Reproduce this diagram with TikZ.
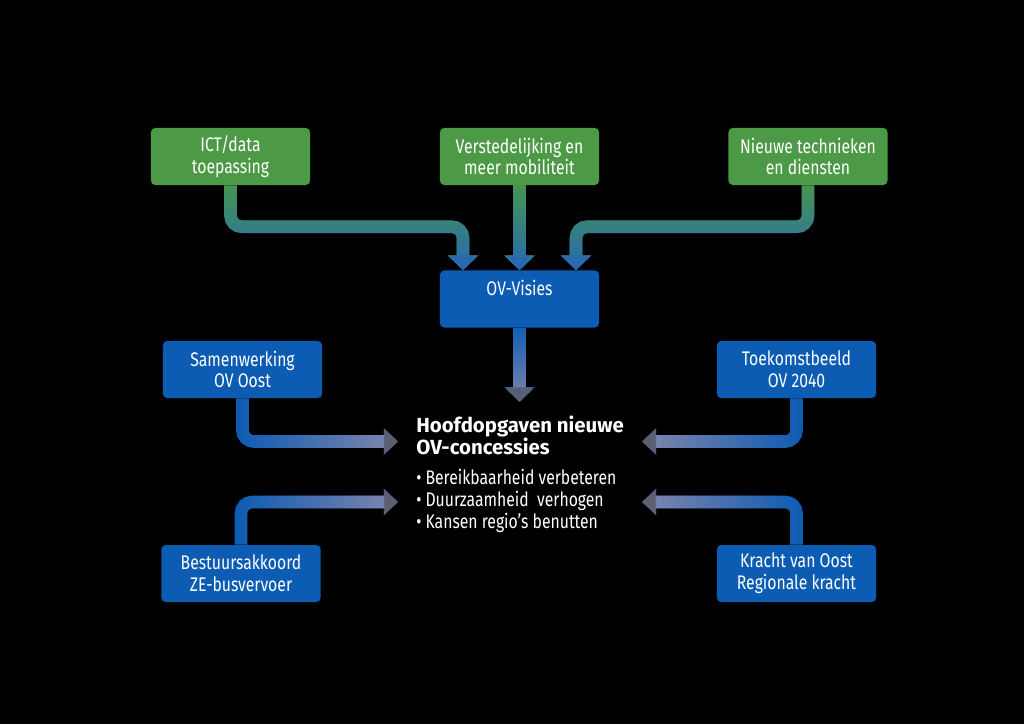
\documentclass[tikz,border=0pt]{standalone}
\usepackage{fontspec}
\setmainfont{Fira Sans}
\newfontfamily\narrowfont{Fira Sans}[FakeStretch=0.8]
\usetikzlibrary{arrows.meta, fadings, calc}
\definecolor{boxgreen}{RGB}{76,154,70}
\definecolor{boxblue}{RGB}{12,92,180}
\definecolor{linkgreen}{RGB}{72,152,76}
\definecolor{linkblue}{RGB}{36,102,186}
\definecolor{linkgrey}{RGB}{136,136,172}
\definecolor{tipgrey}{RGB}{96,96,112}
\tikzfading[name=fadetoeast, left color=transparent!100, middle color=transparent!85, right color=transparent!0]
\tikzfading[name=fadetowest, left color=transparent!0, middle color=transparent!85, right color=transparent!100]

\begin{document}
\begin{tikzpicture}[x=0.025cm, y=-0.025cm,
        box/.style={rectangle, rounded corners=3pt, minimum width=3.975cm, minimum height=1.425cm,
            inner sep=0pt, text=white, align=center, font=\narrowfont\fontsize{14pt}{15.5pt}\selectfont},
        greenbox/.style={box, fill=boxgreen},
        bluebox/.style={box, fill=boxblue},
        link/.style={line width=9pt, rounded corners=8pt, arrows={-{Triangle[width=21pt, length=10.5pt]}}},
        sidelink/.style={link, arrows={-{Triangle[width=18pt, length=10pt]}}},
        downlink/.style={link, draw=linkgreen, postaction={draw=linkblue, path fading=north}},
        greylink/.style={link, draw=boxblue,
            postaction={draw=linkgrey, path fading=north, arrows={-{Triangle[width=21pt, length=10.5pt, color=tipgrey]}}}},
        eastlink/.style={sidelink, draw=boxblue,
            postaction={draw=linkgrey, path fading=fadetoeast, arrows={-{Triangle[width=18pt, length=10pt, color=tipgrey]}}}},
        westlink/.style={sidelink, draw=boxblue,
            postaction={draw=linkgrey, path fading=fadetowest, arrows={-{Triangle[width=18pt, length=10pt, color=tipgrey]}}}}]
        \fill [black] (0, 0) rectangle (1024, 724);
        \useasboundingbox (0, 0) rectangle (1024, 724);
        \node [greenbox] (ict) at (230.5, 156.5) {ICT/data\\toepassing};
        \node [greenbox] (urban) at (519.5, 156.5) {Verstedelijking en\\meer mobiliteit};
        \node [greenbox] (tech) at (808, 156.5) {Nieuwe technieken\\en diensten};
        \node [bluebox] (visies) at (519.5, 299) {OV-Visies\\\mbox{}};
        \node [bluebox] (samen) at (242.5, 369.5) {Samenwerking\\OV Oost};
        \node [bluebox] (future) at (796.5, 369.5) {Toekomstbeeld\\OV 2040};
        \node [bluebox] (accord) at (241, 573.5) {Bestuursakkoord\\ZE-busvervoer};
        \node [bluebox] (kracht) at (796.5, 573.5) {Kracht van Oost\\Regionale kracht};
        \node [anchor=base west, inner sep=0pt, text=white, align=left,
            font=\bfseries\fontsize{14.5pt}{15pt}\selectfont] (goal) at (416, 454)
            {Hoofdopgaven nieuwe\\OV-concessies};
        \node [anchor=base west, inner sep=0pt, text=white, align=left,
            font=\narrowfont\fontsize{14pt}{15.5pt}\selectfont] (tasks) at (416, 528.5)
            {• Bereikbaarheid verbeteren\\• Duurzaamheid\ \ verhogen\\• Kansen regio’s benutten};
        \coordinate (inleft) at ($(visies.north)+(-56.5, 0)$);
        \coordinate (inright) at ($(visies.north)+(56.5, 0)$);
        \coordinate (visiesout) at (519.5, 402);
        \coordinate (westin) at (398, 441.5);
        \coordinate (westlow) at (398, 502);
        \coordinate (eastin) at (642, 441.5);
        \coordinate (eastlow) at (642, 502);
        \draw [downlink] (ict.south) |- ($(inleft)+(0, -43.5)$) -- (inleft);
        \draw [downlink] (urban.south) -- (visies.north);
        \draw [downlink] (tech.south) |- ($(inright)+(0, -43.5)$) -- (inright);
        \draw [greylink] (visies.south) -- (visiesout);
        \draw [eastlink] (samen.south) |- (westin);
        \draw [eastlink] (accord.north) |- (westlow);
        \draw [westlink] (future.south) |- (eastin);
        \draw [westlink] (kracht.north) |- (eastlow);
    \end{tikzpicture}
\end{document}
